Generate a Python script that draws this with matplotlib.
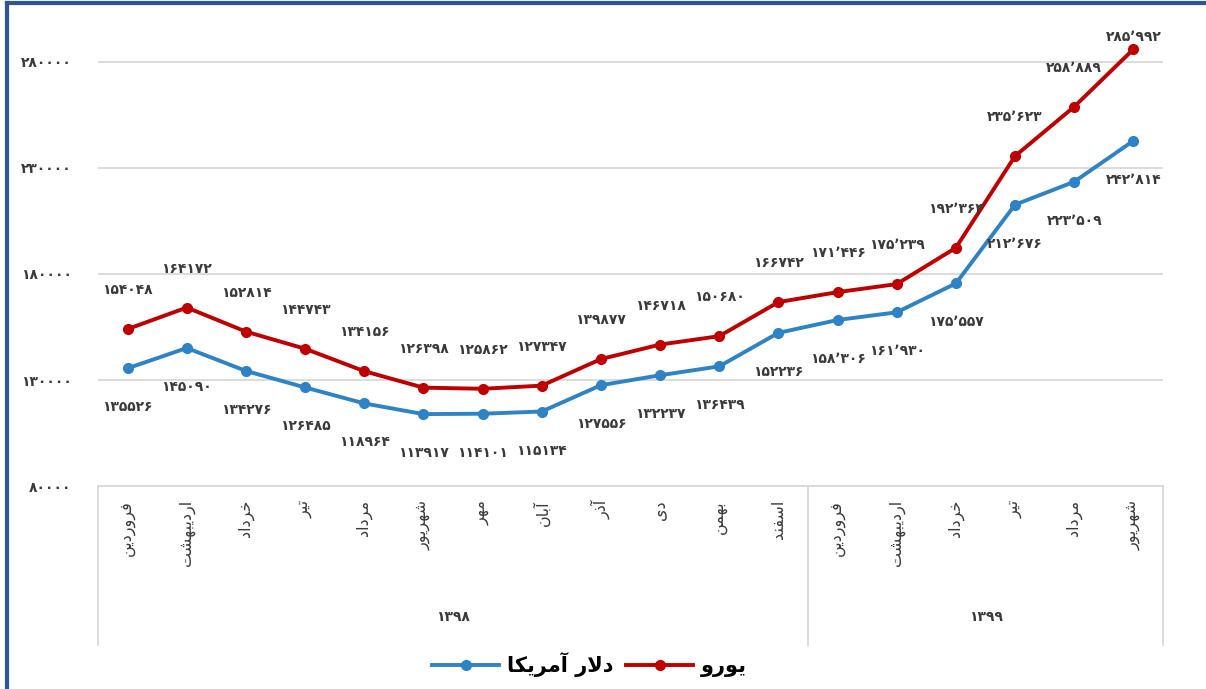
import matplotlib
matplotlib.use('Agg')
import matplotlib.pyplot as plt
from matplotlib.lines import Line2D
import matplotlib.transforms as mtransforms

plt.rcParams['font.family'] = ['DejaVu Sans']

# data: gold price table, 1398 - 1399
months = ['فروردین', 'اردیبهشت', 'خرداد', 'تیر', 'مرداد', 'شهریور', 'مهر', 'آبان',
          'آذر', 'دی', 'بهمن', 'اسفند',
          'فروردین', 'اردیبهشت', 'خرداد', 'تیر', 'مرداد', 'شهریور']
years = ['1398', '1399']
year_counts = [12, 6]
euro = [154048, 164172, 152814, 144743, 134156, 126398, 125862, 127347, 139877,
        146718, 150680, 166742, 171446, 175239, 192364, 235623, 258889, 285992]
dollar = [135526, 145090, 134276, 126485, 118964, 113917, 114101, 115134, 127556,
          132237, 136439, 152236, 158306, 161930, 175557, 212676, 223509, 242814]
yticks = [80000, 130000, 180000, 230000, 280000]
euro_name = 'یورو'
dollar_name = 'دلار آمریکا'

# --- simple persian shaping (matplotlib has no bidi / shaping) ---
DUAL = {'ب': '\ufe8f\ufe90\ufe91\ufe92', 'ت': '\ufe95\ufe96\ufe97\ufe98',
        'خ': '\ufea5\ufea6\ufea7\ufea8', 'س': '\ufeb1\ufeb2\ufeb3\ufeb4',
        'ش': '\ufeb5\ufeb6\ufeb7\ufeb8', 'ف': '\ufed1\ufed2\ufed3\ufed4',
        'ک': '\ufb8e\ufb8f\ufb90\ufb91', 'ل': '\ufedd\ufede\ufedf\ufee0',
        'م': '\ufee1\ufee2\ufee3\ufee4', 'ن': '\ufee5\ufee6\ufee7\ufee8',
        'ه': '\ufee9\ufeea\ufeeb\ufeec', 'ی': '\ufbfc\ufbfd\ufbfe\ufbff'}
RIGHT = {'ا': '\ufe8d\ufe8e', 'آ': '\ufe81\ufe82', 'د': '\ufea9\ufeaa',
         'ذ': '\ufeab\ufeac', 'ر': '\ufead\ufeae', 'و': '\ufeed\ufeee',
         'لا': '\ufefb\ufefc', 'لآ': '\ufef5\ufef6'}


def fa(text):
    glyphs = []
    i = 0
    while i < len(text):
        if text[i] == 'ل' and i + 1 < len(text) and text[i + 1] in 'اآ':
            glyphs.append(text[i:i + 2])
            i += 2
        else:
            glyphs.append(text[i])
            i += 1
    out = []
    for k, g in enumerate(glyphs):
        prev = glyphs[k - 1] if k > 0 else ''
        nxt = glyphs[k + 1] if k + 1 < len(glyphs) else ''
        p = prev in DUAL
        q = g in DUAL and (nxt in DUAL or nxt in RIGHT)
        if g in RIGHT:
            out.append(RIGHT[g][1 if p else 0])
        elif g in DUAL:
            f = DUAL[g]
            out.append(f[3] if (p and q) else f[1] if p else f[2] if q else f[0])
        else:
            out.append(g)
    return ''.join(out)[::-1]


DIGITS = str.maketrans('0123456789', '۰۱۲۳۴۵۶۷۸۹')


def num(v, grouped=False):
    s = f'{v:,}'.replace(',', '\u066c') if grouped else str(v)
    return s.translate(DIGITS)


fig = plt.figure(figsize=(12.06, 6.89), dpi=100)
ax = fig.add_axes([0.0813, 0.2946, 0.8830, 0.677])

x = list(range(len(months)))
ymax = 300000
ax.set_xlim(-0.5, len(months) - 0.5)
ax.set_ylim(80000, ymax)

red = '#C00000'
blue = '#2E83C6'
l_usd, = ax.plot(x, dollar, color=blue, lw=2.8, marker='o', ms=7, zorder=3)
l_eur, = ax.plot(x, euro, color=red, lw=2.8, marker='o', ms=7, zorder=3)

txt = '#3A3A3A'
ax.set_yticks(yticks)
ax.set_yticklabels([num(t) for t in yticks], fontsize=10, color=txt,
                   fontweight='bold')
ax.set_xticks([])
ax.yaxis.grid(True, color='#D9D9D9', lw=1.3)
ax.set_axisbelow(True)
ax.tick_params(axis='y', length=0, pad=19)
for s in ['top', 'right', 'left']:
    ax.spines[s].set_visible(False)
ax.spines['bottom'].set_color('#D9D9D9')
ax.spines['bottom'].set_linewidth(1.3)

# data labels: euro above, dollar below
top_px = ax.transData.transform((0, ymax))[1]
for i in x:
    grouped = i >= year_counts[0]
    py = ax.transData.transform((i, euro[i]))[1]
    off = min(39, top_px - py - 17)
    ax.annotate(num(euro[i], grouped), (i, euro[i]), xytext=(0, off),
                textcoords='offset pixels', ha='center', va='center',
                fontsize=10, color=txt, fontweight='bold')
    ax.annotate(num(dollar[i], grouped), (i, dollar[i]), xytext=(0, -39),
                textcoords='offset pixels', ha='center', va='center',
                fontsize=10, color=txt, fontweight='bold')

# two-level category axis
trans = mtransforms.blended_transform_factory(ax.transData, ax.transAxes)
for i, m in enumerate(months):
    ax.text(i, -0.03, fa(m), rotation=90, ha='center', va='top',
            fontsize=11.5, color=txt, transform=trans)
bounds = [-0.5]
for n in year_counts:
    bounds.append(bounds[-1] + n)
for b in bounds:
    ax.plot([b, b], [0, -0.34], color='#D9D9D9', lw=1.3, transform=trans,
            clip_on=False)
for k, yr in enumerate(years):
    mid = (bounds[k] + bounds[k + 1]) / 2
    ax.text(mid, -0.28, yr.translate(DIGITS), ha='center', va='center',
            fontsize=10, color=txt, fontweight='bold', transform=trans)

ax.legend(handles=[l_usd, l_eur], labels=[fa(dollar_name), fa(euro_name)],
          loc='center', bbox_to_anchor=(0.489, 0.035), bbox_transform=fig.transFigure,
          ncol=2, frameon=False, handlelength=3.2, columnspacing=0.6,
          handletextpad=0.4, prop={'size': 15, 'weight': 'bold'})

# blue frame of the picture
fig.add_artist(Line2D([0.0055, 0.0055], [0, 0.995], color='#2F5597', lw=3,
                      transform=fig.transFigure))
fig.add_artist(Line2D([0.0055, 1], [0.995, 0.995], color='#2F5597', lw=3,
                      transform=fig.transFigure))

plt.savefig('out.png', dpi=100)
